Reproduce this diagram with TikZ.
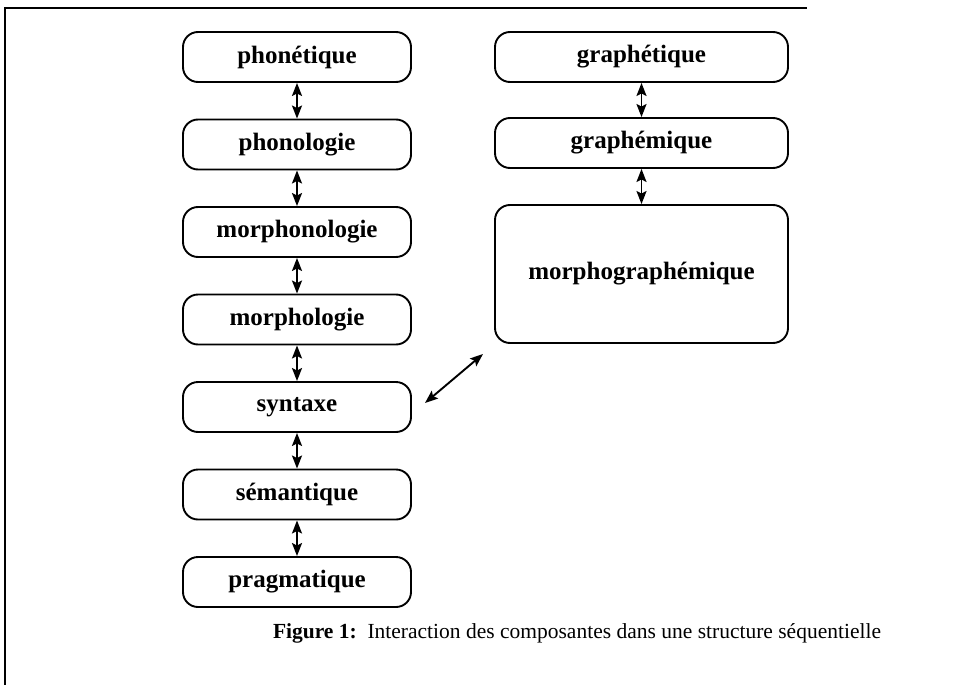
\documentclass[tikz,border=0pt]{standalone}
\usepackage{fontspec}
\setmainfont{Liberation Serif}
\usetikzlibrary{arrows.meta}

\tikzset{
  level/.style={draw, line width=1.9pt, rounded corners=15pt,
    minimum height=50pt, inner sep=0pt,
    font=\fontsize{25}{30}\selectfont\bfseries},
  leftlevel/.style={level, minimum width=228pt},
  rightlevel/.style={level, minimum width=293pt},
  link/.style={line width=1.9pt,
    {Stealth[length=13pt,width=10pt,inset=2.5pt]}-{Stealth[length=13pt,width=10pt,inset=2.5pt]}},
  frame/.style={line width=1.2pt}
}

\begin{document}
\begin{tikzpicture}[x=1pt, y=-1pt]
\useasboundingbox (0,0) rectangle (974,685);

% open frame around the figure
\coordinate (fbl) at (5,685);
\coordinate (ftl) at (5,8);
\coordinate (ftr) at (807,8);
\draw[frame] (fbl) -- (ftl) -- (ftr);

% spoken-language levels
\node[leftlevel] (phonetique)   at (297,57)    {phonétique};
\node[leftlevel] (phonologie)   at (297,144.5) {phonologie};
\node[leftlevel] (morphonol)    at (297,232)   {morphonologie};
\node[leftlevel] (morphologie)  at (297,319.5) {morphologie};
\node[leftlevel] (syntaxe)      at (297,407)   {syntaxe};
\node[leftlevel] (semantique)   at (297,494.5) {sémantique};
\node[leftlevel] (pragmatique)  at (297,582)   {pragmatique};

% written-language levels
\node[rightlevel] (graphetique) at (641.5,57)  {graphétique};
\node[rightlevel] (graphemique) at (641.5,143) {graphémique};
\node[rightlevel, minimum height=138pt] (morphograph) at (641.5,274) {morphographémique};

% vertical links
\foreach \a/\b in {phonetique/phonologie, phonologie/morphonol,
                   morphonol/morphologie, morphologie/syntaxe,
                   syntaxe/semantique, semantique/pragmatique,
                   graphetique/graphemique, graphemique/morphograph}
  \draw[link] (\a.south) -- (\b.north);

% link between syntax and morphographemics
\coordinate (dA) at (425,403);
\coordinate (dB) at (483,354);
\draw[link] (dA) -- (dB);

% caption
\node[font=\fontsize{21.5}{26}\selectfont] (caption) at (577,633)
  {\textbf{Figure 1:}\, Interaction des composantes dans une structure séquentielle};
\end{tikzpicture}
\end{document}
